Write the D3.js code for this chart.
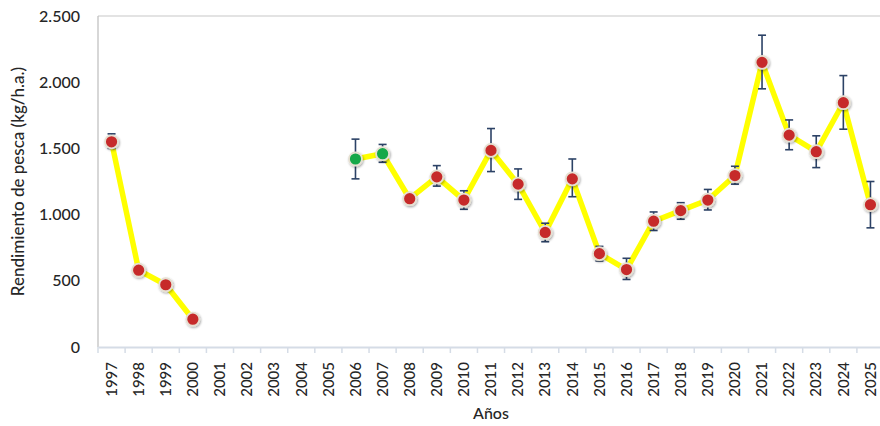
<!DOCTYPE html>
<html>
<head>
<meta charset="utf-8">
<script src="https://cdn.jsdelivr.net/npm/d3@7"></script>
<style>
  body { margin: 0; background: #fff; }
  text { font-family: Lato, "Open Sans", sans-serif; fill: #262626; }
</style>
</head>
<body>
<div id="chart"></div>
<script>
// data
var years = ["1997", "1998", "1999", "2000", "2001", "2002", "2003", "2004", "2005",
  "2006", "2007", "2008", "2009", "2010", "2011", "2012", "2013", "2014", "2015",
  "2016", "2017", "2018", "2019", "2020", "2021", "2022", "2023", "2024", "2025"];
var rendimiento = [1550, 580, 470, 210, null, null, null, null, null,
  1420, 1460, 1120, 1285, 1110, 1485, 1230, 865, 1270, 705,
  585, 950, 1030, 1110, 1295, 2150, 1600, 1475, 1845, 1075];
var errPlus = [60, 0, 0, 0, null, null, null, null, null,
  150, 70, 25, 85, 70, 165, 115, 70, 150, 55,
  85, 70, 60, 80, 70, 205, 115, 120, 205, 175];
var errMinus = [50, 0, 0, 0, null, null, null, null, null,
  150, 65, 25, 70, 70, 160, 115, 70, 135, 55,
  75, 70, 65, 75, 65, 200, 110, 120, 200, 175];
var greenYears = ["2006", "2007"];
var yTicks = [0, 500, 1000, 1500, 2000, 2500];

// set up the chart
var svgWidth = 880;
var svgHeight = 426;
var margin = { top: 16, right: -4, bottom: 79, left: 98 };
var width = svgWidth - margin.left - margin.right;
var height = svgHeight - margin.top - margin.bottom;

var svg = d3.select("#chart")
  .append("svg")
  .attr("width", svgWidth)
  .attr("height", svgHeight);

var chart = svg.append("g")
  .attr("transform", "translate(" + margin.left + "," + margin.top + ")");

var data = years.map(function(y, i) {
  return { year: y, value: rendimiento[i], up: errPlus[i], down: errMinus[i] };
});

// scales
var xScale = d3.scaleBand().domain(years).range([0, width]).padding(0);
var yScale = d3.scaleLinear().domain([0, 2500]).range([height, 0]);
function cx(d) { return xScale(d.year) + xScale.bandwidth() / 2; }

// plot frame (top + left)
chart.append("line")
  .attr("x1", 0).attr("x2", width).attr("y1", 0).attr("y2", 0)
  .attr("stroke", "#c8c8c8").attr("stroke-width", 1.2);
chart.append("line")
  .attr("x1", 0).attr("x2", 0).attr("y1", 0).attr("y2", height)
  .attr("stroke", "#bdbdbd").attr("stroke-width", 1.2);

// y axis labels only
var leftAxis = d3.axisLeft(yScale)
  .tickValues(yTicks)
  .tickSize(0)
  .tickPadding(18)
  .tickFormat(function(d) { return d3.format(",")(d).replace(/,/g, "."); });
var yAxisG = chart.append("g").call(leftAxis);
yAxisG.select(".domain").remove();
yAxisG.selectAll("text")
  .style("font-size", "16px")
  .style("font-weight", "500")
  .attr("fill", "#262626");

// x axis
var bottomAxis = d3.axisBottom(xScale).tickSize(0).tickPadding(0);
var xAxisG = chart.append("g")
  .attr("transform", "translate(0," + height + ")")
  .call(bottomAxis);
xAxisG.select(".domain")
  .attr("stroke", "#d5dce6").attr("stroke-width", 2);
xAxisG.selectAll("text")
  .attr("transform", "rotate(-90)")
  .attr("text-anchor", "end")
  .attr("x", -15)
  .attr("y", 0)
  .attr("dy", "0.35em")
  .style("font-size", "15px")
  .style("font-weight", "500")
  .attr("fill", "#262626");

// tick marks at band edges
var edges = years.map(function(y) { return xScale(y); }).concat([width]);
xAxisG.selectAll(".edge")
  .data(edges)
  .enter()
  .append("line")
  .attr("class", "edge")
  .attr("x1", function(d) { return d; })
  .attr("x2", function(d) { return d; })
  .attr("y1", 0)
  .attr("y2", 6)
  .attr("stroke", "#d5dce6")
  .attr("stroke-width", 1.5);

// line
var line = d3.line()
  .defined(function(d) { return d.value !== null; })
  .x(cx)
  .y(function(d) { return yScale(d.value); });

chart.append("path")
  .datum(data)
  .attr("d", line)
  .attr("fill", "none")
  .attr("stroke", "#ffff00")
  .attr("stroke-width", 5.5)
  .attr("stroke-linejoin", "round");

// error bars
var withErr = data.filter(function(d) { return d.value !== null && (d.up > 0 || d.down > 0); });
var errG = chart.append("g").attr("stroke", "#2c4266").attr("stroke-width", 1.6);
errG.selectAll(".err")
  .data(withErr)
  .enter()
  .append("line")
  .attr("x1", cx).attr("x2", cx)
  .attr("y1", function(d) { return yScale(d.value + d.up); })
  .attr("y2", function(d) { return yScale(d.value - d.down); });
errG.selectAll(".capTop")
  .data(withErr)
  .enter()
  .append("line")
  .attr("x1", function(d) { return cx(d) - 4; })
  .attr("x2", function(d) { return cx(d) + 4; })
  .attr("y1", function(d) { return yScale(d.value + d.up); })
  .attr("y2", function(d) { return yScale(d.value + d.up); });
errG.selectAll(".capBottom")
  .data(withErr)
  .enter()
  .append("line")
  .attr("x1", function(d) { return cx(d) - 4; })
  .attr("x2", function(d) { return cx(d) + 4; })
  .attr("y1", function(d) { return yScale(d.value - d.down); })
  .attr("y2", function(d) { return yScale(d.value - d.down); });

// markers
var defs = svg.append("defs");
var shadow = defs.append("filter").attr("id", "shadow")
  .attr("x", "-50%").attr("y", "-50%").attr("width", "200%").attr("height", "200%");
shadow.append("feDropShadow")
  .attr("dx", 0.8).attr("dy", 1.2).attr("stdDeviation", 1)
  .attr("flood-color", "#000").attr("flood-opacity", 0.35);

chart.selectAll("circle")
  .data(data.filter(function(d) { return d.value !== null; }))
  .enter()
  .append("circle")
  .attr("cx", cx)
  .attr("cy", function(d) { return yScale(d.value); })
  .attr("r", 6.5)
  .attr("fill", function(d) { return greenYears.indexOf(d.year) >= 0 ? "#12a84a" : "#c62a2a"; })
  .attr("stroke", "#e6e0d2")
  .attr("stroke-width", 1.8)
  .attr("filter", "url(#shadow)");

// axis titles
chart.append("text")
  .attr("transform", "rotate(-90)")
  .attr("x", -height / 2)
  .attr("y", -margin.left + 24)
  .attr("text-anchor", "middle")
  .style("font-size", "17px")
  .style("font-weight", "500")
  .text("Rendimiento de pesca (kg/h.a.)");

chart.append("text")
  .attr("x", width / 2)
  .attr("y", height + 72)
  .attr("text-anchor", "middle")
  .style("font-size", "16px")
  .style("font-weight", "500")
  .text("Años");
</script>
</body>
</html>
